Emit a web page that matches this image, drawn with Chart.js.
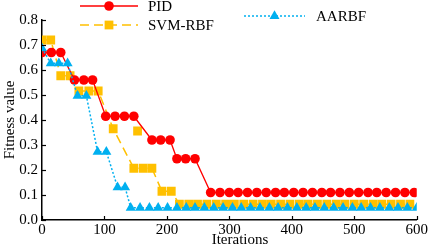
<!DOCTYPE html>
<html>
<head>
<meta charset="utf-8">
<script src="https://cdn.jsdelivr.net/npm/chart.js@4.4.1/dist/chart.umd.min.js"></script>
<style>
  html, body { margin: 0; padding: 0; background: #fff; overflow: hidden; }
  #wrap { width: 429px; height: 248px; position: relative; }
  canvas { display: block; }
</style>
</head>
<body>
<div id="wrap"><canvas id="fitChart" width="429" height="248"></canvas></div>
<script>
// values (iteration, fitness)
const pidX = [0, 15, 30, 52, 67, 81, 102, 117, 132, 147, 176, 190, 205, 216, 230, 245,
  270, 285, 300, 314, 329, 344, 359, 374, 388, 403, 418, 433, 448, 462, 477, 492, 507, 522, 536, 551, 566, 581, 596];
const pidY = [0.67, 0.67, 0.67, 0.56, 0.56, 0.56, 0.415, 0.415, 0.415, 0.415, 0.32, 0.32, 0.32, 0.245, 0.245, 0.245,
  0.11, 0.11, 0.11, 0.11, 0.11, 0.11, 0.11, 0.11, 0.11, 0.11, 0.11, 0.11, 0.11, 0.11, 0.11, 0.11, 0.11, 0.11, 0.11, 0.11, 0.11, 0.11, 0.11];

const svmX = [0, 14, 30, 45, 59, 75, 90, 114, 147, 162, 176, 192, 207,
  220, 235, 249, 264, 279, 294, 308, 323, 338, 353, 367, 382, 397, 412, 426, 441, 456, 471, 485, 500, 515, 530, 544, 559, 574, 589];
const svmY = [0.72, 0.72, 0.577, 0.577, 0.516, 0.516, 0.516, 0.365, 0.207, 0.207, 0.207, 0.115, 0.115,
  0.063, 0.063, 0.063, 0.063, 0.063, 0.063, 0.063, 0.063, 0.063, 0.063, 0.063, 0.063, 0.063, 0.063, 0.063, 0.063, 0.063, 0.063, 0.063, 0.063, 0.063, 0.063, 0.063, 0.063, 0.063, 0.063];
// a lone square that sits off the dashed line
const svmStrayX = [153];
const svmStrayY = [0.356];

const aarX = [0, 14, 27, 41, 57, 71, 89, 103, 121, 133,
  142, 157, 172, 186, 201, 216, 231, 245, 260, 275, 290, 305, 319, 334, 349, 364, 378, 393, 408, 423, 437, 452, 467, 482, 497, 511, 526, 541, 556, 570, 585, 600];
const aarY = [0.687, 0.627, 0.627, 0.627, 0.497, 0.497, 0.273, 0.273, 0.131, 0.131,
  0.049, 0.049, 0.049, 0.049, 0.049, 0.049, 0.049, 0.049, 0.049, 0.049, 0.049, 0.049, 0.049, 0.049, 0.049, 0.049, 0.049, 0.049, 0.049, 0.049, 0.049, 0.049, 0.049, 0.049, 0.049, 0.049, 0.049, 0.049, 0.049, 0.049, 0.049, 0.049];

const xTicks = [0, 100, 200, 300, 400, 500, 600];
const yTicks = [0.0, 0.1, 0.2, 0.3, 0.4, 0.5, 0.6, 0.7, 0.8];

const RED = '#ff0000';
const YEL = '#ffc000';
const BLUE = '#00b0f0';
const FONT = "'Liberation Serif', 'Times New Roman', serif";

function pts(xs, ys) {
  return xs.map((x, i) => ({ x: x, y: ys[i] }));
}

// inward tick marks, axis titles and the floating legend
const extras = {
  id: 'extras',
  afterDraw(chart) {
    const c = chart.ctx;
    const xs = chart.scales.x, ys = chart.scales.y;
    const a = chart.chartArea;
    c.save();
    c.strokeStyle = '#000';
    c.lineWidth = 1.2;
    xTicks.forEach(v => {
      const px = Math.round(xs.getPixelForValue(v)) + 0.5;
      c.beginPath(); c.moveTo(px, a.bottom); c.lineTo(px, a.bottom - 4); c.stroke();
    });
    yTicks.forEach(v => {
      const py = Math.round(ys.getPixelForValue(v)) + 0.5;
      c.beginPath(); c.moveTo(a.left, py); c.lineTo(a.left + 4, py); c.stroke();
    });

    c.fillStyle = '#000';
    c.font = '15px ' + FONT;
    c.textAlign = 'center';
    c.textBaseline = 'middle';
    c.fillText('Iterations', 240, 240);
    c.save();
    c.translate(10, (a.top + a.bottom) / 2);
    c.rotate(-Math.PI / 2);
    c.fillText('Fitness value', 0, 0);
    c.restore();

    // legend entries: dataset index, line start/end, y, text x
    const items = [
      [0, 80, 138, 6, 148],
      [1, 80, 138, 25, 148],
      [3, 244, 305, 16, 316]
    ];
    items.forEach(([di, x0, x1, y, tx]) => {
      const ds = chart.data.datasets[di];
      c.save();
      c.strokeStyle = ds.borderColor;
      c.lineWidth = ds.borderWidth;
      c.setLineDash(ds.borderDash || []);
      c.beginPath(); c.moveTo(x0, y); c.lineTo(x1, y); c.stroke();
      c.restore();
      c.save();
      c.fillStyle = ds.pointBackgroundColor;
      c.strokeStyle = ds.pointBackgroundColor;
      Chart.helpers.drawPoint(c, {
        pointStyle: ds.pointStyle, radius: ds.pointRadius, borderWidth: 0
      }, (x0 + x1) / 2, y);
      c.restore();
      c.fillStyle = '#000';
      c.font = '15px ' + FONT;
      c.textAlign = 'left';
      c.textBaseline = 'middle';
      c.fillText(ds.label, tx, y + 1);
    });
    c.restore();
  }
};

const axisGrid = { display: true, drawOnChartArea: false, drawTicks: false, color: 'rgba(0,0,0,0)' };

new Chart(document.getElementById('fitChart'), {
  type: 'line',
  data: {
    datasets: [
      {
        label: 'PID',
        data: pts(pidX, pidY),
        borderColor: RED,
        borderWidth: 1.3,
        pointStyle: 'circle',
        pointRadius: 4.8,
        pointBackgroundColor: RED,
        pointBorderColor: RED,
        pointBorderWidth: 0,
        order: 2
      },
      {
        label: 'SVM-RBF',
        data: pts(svmX, svmY),
        borderColor: YEL,
        borderWidth: 1.5,
        borderDash: [9, 5],
        pointStyle: 'rect',
        pointRadius: 6.2,
        pointBackgroundColor: YEL,
        pointBorderColor: YEL,
        pointBorderWidth: 0,
        order: 3
      },
      {
        label: 'SVM-RBF stray',
        data: pts(svmStrayX, svmStrayY),
        showLine: false,
        borderColor: YEL,
        pointStyle: 'rect',
        pointRadius: 6.2,
        pointBackgroundColor: YEL,
        pointBorderColor: YEL,
        pointBorderWidth: 0,
        order: 3
      },
      {
        label: 'AARBF',
        data: pts(aarX, aarY),
        borderColor: BLUE,
        borderWidth: 1.5,
        borderDash: [2, 2],
        pointStyle: 'triangle',
        pointRadius: 5.8,
        pointBackgroundColor: BLUE,
        pointBorderColor: BLUE,
        pointBorderWidth: 0,
        order: 1
      }
    ]
  },
  options: {
    responsive: false,
    animation: false,
    events: [],
    layout: { padding: { top: 20, right: 12, left: 0, bottom: 0 } },
    plugins: {
      legend: { display: false },
      tooltip: { enabled: false }
    },
    scales: {
      x: {
        type: 'linear',
        min: 0,
        max: 600,
        afterFit(s) { s.height = 28; },
        afterBuildTicks(s) { s.ticks = xTicks.map(v => ({ value: v })); },
        grid: axisGrid,
        border: { display: true, color: '#000', width: 1.5 },
        ticks: {
          color: '#000',
          padding: 1,
          maxRotation: 0,
          font: { family: FONT, size: 15 }
        }
      },
      y: {
        min: 0,
        max: 0.8,
        afterFit(s) { s.width = 42; },
        afterBuildTicks(s) { s.ticks = yTicks.map(v => ({ value: v })); },
        grid: axisGrid,
        border: { display: true, color: '#000', width: 1.5 },
        ticks: {
          color: '#000',
          padding: 4,
          font: { family: FONT, size: 15 },
          callback: v => v.toFixed(1)
        }
      }
    }
  },
  plugins: [extras]
});
</script>
</body>
</html>
